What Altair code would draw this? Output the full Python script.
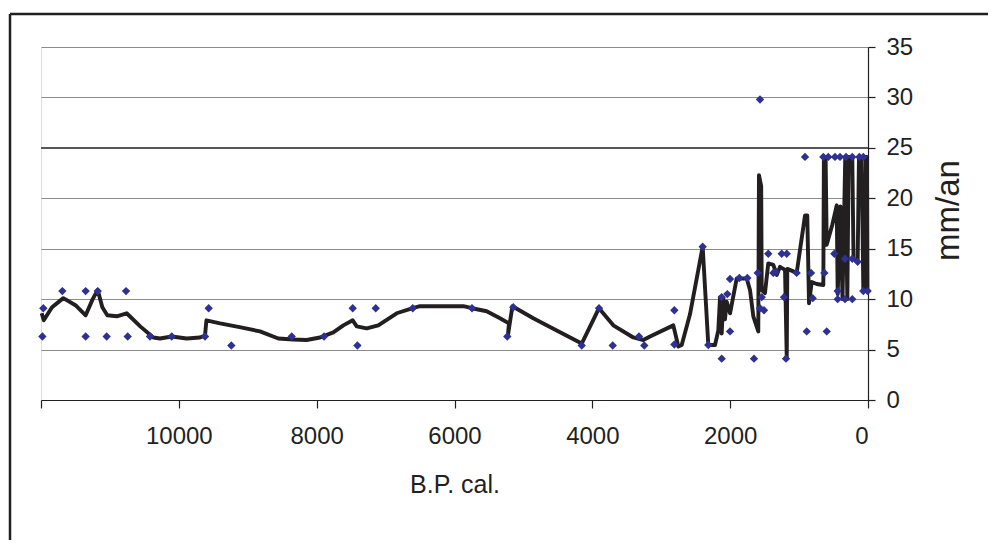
import altair as alt
import pandas as pd

# ---- scatter (observed rates) ----
pt_year = [11980, 11966, 11690, 11352, 11352, 11177, 11047, 10766, 10742, 10418,
           10103, 9620, 9567, 9238, 8362, 7893, 7477, 7409, 7143, 6606,
           5746, 5234, 5147, 4154, 3903, 3704, 3323, 3246, 2810, 2810,
           2399, 2317, 2123, 2123, 2041, 2002, 2002, 1867, 1751, 1654,
           1600, 1567, 1567, 1542, 1509, 1447, 1374, 1335, 1252, 1179,
           1219, 1190, 1035, 914, 889, 827, 802, 648, 633, 599,
           576, 489, 479, 440, 440, 406, 334, 334, 319, 228,
           228, 228, 150, 126, 68, 68, 5]
pt_rate = [6.3, 9.1, 10.8, 10.8, 6.3, 10.8, 6.3, 10.8, 6.3, 6.3,
           6.3, 6.3, 9.1, 5.4, 6.3, 6.3, 9.1, 5.4, 9.1, 9.1,
           9.1, 6.3, 9.2, 5.4, 9.1, 5.4, 6.3, 5.4, 8.9, 5.5,
           15.2, 5.45, 4.1, 10.2, 10.5, 12.0, 6.8, 12.1, 12.1, 4.1,
           12.6, 29.8, 9.1, 10.2, 8.9, 14.5, 12.6, 12.7, 14.5, 14.5,
           10.2, 4.1, 12.6, 24.1, 6.8, 12.6, 10.1, 24.1, 12.6, 6.8,
           24.1, 14.5, 24.1, 10.8, 10.0, 24.1, 10.0, 14.0, 24.1, 24.1,
           10.0, 14.0, 13.7, 24.1, 24.1, 10.8, 10.8]

# ---- black curve (drawn in this order) ----
ln_year = [11990, 11960, 11840, 11676, 11500, 11352, 11250, 11177, 11110, 11038,
           10902, 10757, 10560, 10370, 10273, 10103, 9886, 9693, 9620, 9600,
           9402, 9100, 8822, 8557, 8339, 8145, 7952, 7758, 7613, 7477,
           7419, 7274, 7106, 6839, 6606, 6500, 5872, 5746, 5533, 5340,
           5210, 5225, 5160, 4857, 4517, 4154, 3903, 3696, 3405, 3260,
           3163, 2825, 2752, 2703, 2583, 2399, 2317, 2220, 2172, 2147,
           2123, 2099, 2075, 2051, 2002, 1905, 1760, 1712, 1664, 1592,
           1582, 1550, 1542, 1495, 1447, 1374, 1325, 1277, 1204, 1179,
           1171, 1100, 1035, 914, 881, 856, 817, 744, 648, 640,
           615, 599, 517, 454, 440, 400, 370, 330, 300, 280,
           228, 210, 150, 131, 92, 68, 45, 30, 15, 8]
ln_rate = [8.6, 7.9, 9.2, 10.1, 9.4, 8.4, 10.0, 10.9, 9.2, 8.4,
           8.3, 8.6, 7.3, 6.2, 6.1, 6.3, 6.1, 6.2, 6.4, 7.9,
           7.6, 7.2, 6.8, 6.1, 6.0, 5.95, 6.2, 6.7, 7.4, 7.9,
           7.3, 7.1, 7.4, 8.6, 9.1, 9.3, 9.3, 9.1, 8.8, 8.1,
           7.6, 6.4, 9.3, 8.1, 6.9, 5.6, 9.1, 7.4, 6.2, 5.95,
           6.3, 7.4, 5.3, 5.45, 8.5, 15.2, 5.45, 5.45, 6.9, 10.2,
           6.6, 10.1, 8.0, 9.75, 8.6, 12.05, 12.05, 10.9, 8.3, 6.8,
           22.3, 21.2, 10.9, 10.6, 13.55, 13.4, 12.4, 13.2, 12.9, 4.1,
           13.0, 12.8, 12.6, 18.3, 18.3, 9.6, 11.7, 11.5, 11.4, 24.1,
           24.1, 15.4, 17.4, 19.3, 10.5, 19.2, 10.0, 24.1, 10.0, 24.1,
           24.1, 14.0, 13.8, 24.1, 24.1, 10.8, 10.8, 24.1, 24.1, 10.8]

x_ticks = [12000, 10000, 8000, 6000, 4000, 2000, 0]
y_ticks = [0, 5, 10, 15, 20, 25, 30, 35]
dark_grid = [25]

pts = pd.DataFrame({"year": pt_year, "rate": pt_rate})
ln = pd.DataFrame({"year": ln_year, "rate": ln_rate, "i": list(range(len(ln_year)))})

INK = "#231F20"
FONT = "Liberation Sans Narrow, Arial Narrow, Liberation Sans"

x_enc = alt.X(
    "year:Q",
    scale=alt.Scale(domain=[0, 12000], reverse=True, nice=False, zero=False),
    axis=alt.Axis(
        values=x_ticks, format="d",
        labelExpr="datum.value == 12000 ? '' : datum.label",
        grid=False, domainColor=INK, domainWidth=1.2, tickColor=INK, tickWidth=1.2,
        tickSize=8, labelFont=FONT, labelFontSize=24, labelColor=INK, labelPadding=16,
        title="B.P. cal.", titleFont="Liberation Sans", titleFontSize=25,
        titleFontWeight="normal", titleColor=INK, titleY=92,
        titleBaseline="alphabetic",
    ),
)
y_enc = alt.Y(
    "rate:Q",
    scale=alt.Scale(domain=[0, 35], nice=False),
    axis=alt.Axis(
        orient="right", values=y_ticks, grid=True, gridColor="#8C8C8C", gridWidth=1,
        domainColor=INK, domainWidth=1.2, tickColor=INK, tickWidth=1.2, tickSize=7,
        labelFont=FONT, labelFontSize=24, labelColor=INK, labelPadding=11,
        title="mm/an", titleFont="Liberation Sans", titleFontSize=33,
        titleFontWeight="normal", titleColor=INK, titleAngle=270,
        titleX=80, titleY=163, titleAlign="center", titleBaseline="middle",
    ),
)

grid25 = alt.Chart(pd.DataFrame({"rate": dark_grid})).mark_rule(
    color=INK, strokeWidth=1.2
).encode(y=alt.Y("rate:Q", scale=alt.Scale(domain=[0, 35], nice=False)))

line = alt.Chart(ln).mark_line(color=INK, strokeWidth=3.9, strokeJoin="round").encode(
    x=x_enc, y=y_enc, order="i:Q"
)
points = alt.Chart(pts).mark_point(
    shape="diamond", filled=True, color="#2E3192", size=70, opacity=1
).encode(x=x_enc, y=y_enc)

one = pd.DataFrame({"a": [0]})
frame_top = alt.Chart(one).mark_rule(color=INK, strokeWidth=2.5).encode(
    x=alt.value(-31), x2=alt.value(1200), y=alt.value(-33)
)
frame_left = alt.Chart(one).mark_rule(color=INK, strokeWidth=2.5).encode(
    x=alt.value(-31), y=alt.value(-33), y2=alt.value(800)
)

chart = alt.layer(grid25, line, points, frame_top, frame_left).properties(
    width=827, height=353,
    autosize=alt.AutoSizeParams(type="none"),
    padding={"left": 33, "top": 39, "right": 120, "bottom": 140},
).configure_view(stroke="#8D979F", strokeWidth=1.5).configure(background="white")

chart.save("out.html", embed_options={"renderer": "svg", "actions": False})
